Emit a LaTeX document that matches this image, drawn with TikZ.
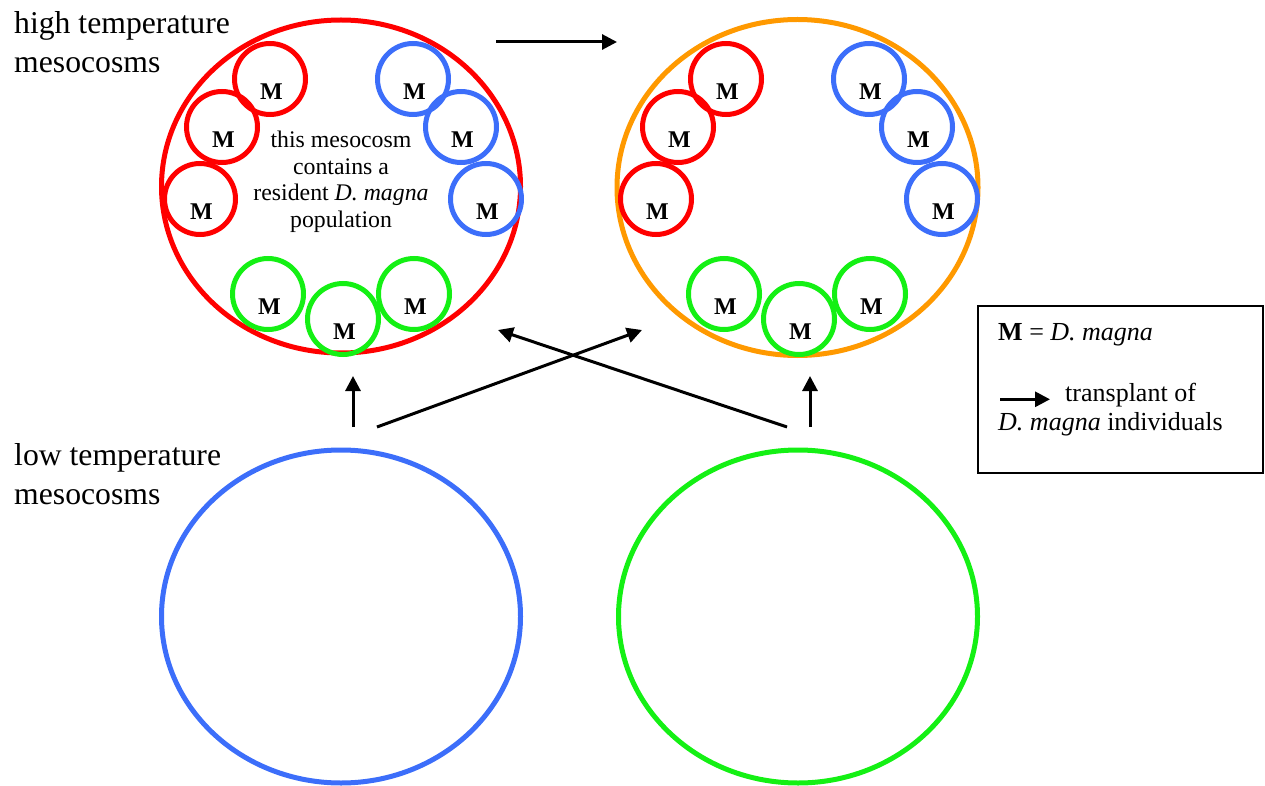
\documentclass[tikz,border=0pt]{standalone}
\usepackage{fontspec}
\setmainfont{Liberation Serif}
\usetikzlibrary{arrows.meta,shapes.geometric}
\definecolor{mred}{RGB}{255,0,0}
\definecolor{mblue}{RGB}{60,110,250}
\definecolor{mgreen}{RGB}{20,240,20}
\definecolor{morange}{RGB}{255,153,0}
\begin{document}
\begin{tikzpicture}[x=1pt,y=-1pt,
  meso/.style={ellipse,draw=#1,line width=5pt,inner sep=0pt,
    minimum width=359pt,minimum height=333pt},
  pop/.style={circle,draw=#1,line width=5pt,inner sep=0pt,minimum size=71pt},
  mlabel/.style={inner sep=0pt,font=\fontsize{24}{28}\selectfont\bfseries},
  transfer/.style={line width=3pt,-{Triangle[length=15pt,width=15pt]}},
  heading/.style={inner sep=0pt,align=left,anchor=north west,
    font=\fontsize{31.7}{38.4}\selectfont},
  legtext/.style={inner sep=0pt,anchor=base west,font=\fontsize{26}{28}\selectfont}]
\useasboundingbox (0,0) rectangle (1265,786);

% mesocosms
\node[meso=mred] (hotA) at (341,186.5) {};
\node[meso=morange,minimum width=361pt,minimum height=336pt] (hotB) at (797.5,187.5) {};
\node[meso=mblue] (coldA) at (341,616.5) {};
\node[meso=mgreen] (coldB) at (798,616.5) {};

% populations transplanted into each warm mesocosm
\foreach \m/\dx in {A/0,B/456}{
  \node[pop=mred]   (r1\m) at (270+\dx,79)  {};
  \node[pop=mred]   (r2\m) at (222+\dx,127) {};
  \node[pop=mred]   (r3\m) at (200+\dx,199) {};
  \node[pop=mblue]  (b1\m) at (413+\dx,79)  {};
  \node[pop=mblue]  (b2\m) at (461+\dx,127) {};
  \node[pop=mblue]  (b3\m) at (486+\dx,199) {};
  \node[pop=mgreen] (g1\m) at (268+\dx,294) {};
  \node[pop=mgreen] (g2\m) at (343+\dx,319) {};
  \node[pop=mgreen] (g3\m) at (414+\dx,294) {};
  \foreach \p in {r1,r2,r3,b1,b2,b3,g1,g2,g3}
    \node[mlabel] at ([shift={(1.5,13)}]\p\m.center) {M};
}

% resident population note
\node[inner sep=0pt,align=center,anchor=north,
  font=\fontsize{23.8}{26.7}\selectfont] (note) at (341,130.7)
  {this mesocosm\\contains a\\resident \textit{D. magna}\\population};

% group labels
\node[heading] (hotlab) at (14,11.7) {high temperature\\mesocosms};
\node[heading] (coldlab) at (14,443.5) {low temperature\\mesocosms};

% transplant arrows
\coordinate (hsrc) at (496,42);   \coordinate (hdst) at (617,42);
\coordinate (lsrc) at (353,427);  \coordinate (ldst) at (353,376);
\coordinate (rsrc) at (810,427);  \coordinate (rdst) at (810,376);
\coordinate (xsrc) at (377,427);  \coordinate (xdst) at (642,330);
\coordinate (ysrc) at (787,427);  \coordinate (ydst) at (498,330);
\draw[transfer] (hsrc) -- (hdst);
\draw[transfer] (lsrc) -- (ldst);
\draw[transfer] (rsrc) -- (rdst);
\draw[transfer] (xsrc) -- (xdst);
\draw[transfer] (ysrc) -- (ydst);

% legend
\node[draw,line width=2pt,inner sep=0pt,minimum width=285pt,minimum height=167pt]
  (legend) at (1120.5,389.5) {};
\node[legtext] (legM) at (998,340) {\textbf{M} = \textit{D. magna}};
\coordinate (kstart) at (1000,399.3); \coordinate (kend) at (1050,399.3);
\draw[transfer] (kstart) -- (kend);
\node[legtext] (legT1) at (1065,401.7) {transplant of};
\node[legtext] (legT2) at (998,430) {\textit{D. magna} individuals};
\end{tikzpicture}
\end{document}
